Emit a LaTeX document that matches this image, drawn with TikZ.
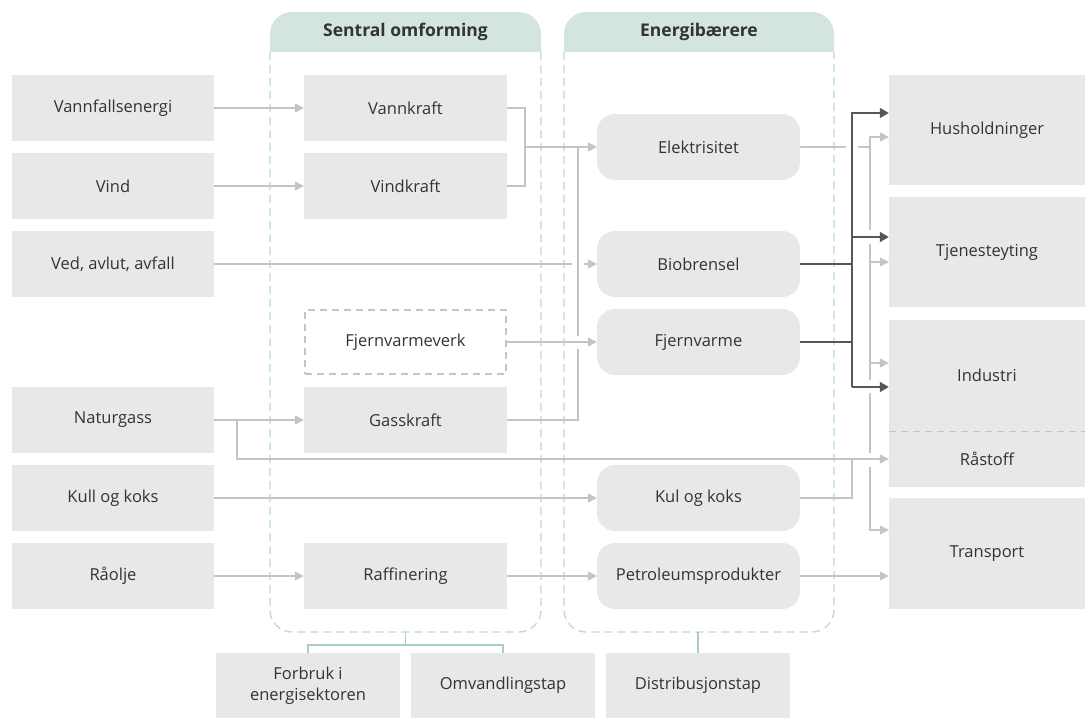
\documentclass[tikz,border=0pt]{standalone}
\usepackage{fontspec}
\setmainfont{Open Sans}
\usetikzlibrary{arrows.meta}
\definecolor{boxgray}{HTML}{E8E8E8}
\definecolor{headfill}{HTML}{D3E5DC}
\definecolor{tealdash}{HTML}{B9DCCF}
\definecolor{lightline}{HTML}{C4C4C4}
\definecolor{darkline}{HTML}{5B5555}
\definecolor{greenline}{HTML}{A6D1C1}
\definecolor{txt}{HTML}{333333}
\tikzset{
  lbl/.style={font=\fontsize{16.5}{20.5}\selectfont, text=txt, align=center, inner sep=0pt},
  gbox/.style={lbl, fill=boxgray, draw=none},
  leftbox/.style={gbox, minimum width=202pt, minimum height=66pt},
  midbox/.style={gbox, minimum width=203pt, minimum height=66pt},
  carrier/.style={gbox, rounded corners=18pt, minimum width=203pt, minimum height=66pt},
  rightbox/.style={gbox, minimum width=196pt},
  botbox/.style={gbox, minimum width=184pt, minimum height=65pt},
  lline/.style={draw=lightline, line width=1.6pt},
  dline/.style={draw=darkline, line width=1.8pt},
  larr/.style={lline, -{Triangle[length=9pt,width=9pt]}},
  darr/.style={dline, -{Triangle[length=9pt,width=10pt]}},
  panel/.style={draw=tealdash, line width=1.3pt, dash pattern=on 8pt off 5pt},
  gconn/.style={draw=greenline, line width=1.6pt},
  head/.style={font=\fontsize{17.5}{20}\selectfont\bfseries, text=txt, inner sep=0pt}
}
\begin{document}
\begin{tikzpicture}[x=1pt,y=-1pt]
\useasboundingbox (0,0) rectangle (1085,718);
% panels
\fill[headfill] (270,52) [rounded corners=22pt] -- (270,12) -- (541,12) [sharp corners] -- (541,52) -- cycle;
\fill[headfill] (564,52) [rounded corners=22pt] -- (564,12) -- (834,12) [sharp corners] -- (834,52) -- cycle;
\draw[panel] (270,52) [rounded corners=22pt] -- (270,632) -- (541,632) [sharp corners] -- (541,52);
\draw[panel] (564,52) [rounded corners=22pt] -- (564,632) -- (834,632) [sharp corners] -- (834,52);
\node[head] (h1) at (405.5,32) {Sentral omforming};
\node[head] (h2) at (699,32) {Energibærere};
% left boxes
\node[leftbox] (vf) at (113,108) {Vannfallsenergi};
\node[leftbox] (vind) at (113,186) {Vind};
\node[leftbox] (ved) at (113,264) {Ved, avlut, avfall};
\node[leftbox] (ngas) at (113,420) {Naturgass};
\node[leftbox] (kull) at (113,498) {Kull og koks};
\node[leftbox] (raa) at (113,576) {Råolje};
% middle
\node[midbox] (vk) at (405.5,108) {Vannkraft};
\node[midbox] (vik) at (405.5,186) {Vindkraft};
\node[lbl, fill=white, draw=lightline, line width=1.6pt, dash pattern=on 7pt off 5pt, minimum width=201pt, minimum height=64pt] (fvv) at (405.5,342) {Fjernvarmeverk};
\node[midbox] (gk) at (405.5,420) {Gasskraft};
\node[midbox] (raff) at (405.5,576) {Raffinering};
% carriers
\node[carrier] (el) at (698.5,147) {Elektrisitet};
\node[carrier] (bio) at (698.5,264) {Biobrensel};
\node[carrier] (fv) at (698.5,342) {Fjernvarme};
\node[carrier] (kk) at (698.5,498) {Kul og koks};
\node[carrier] (pp) at (698.5,576) {Petroleumsprodukter};
% right
\node[rightbox, minimum height=110pt] (hus) at (987,130) {Husholdninger};
\node[rightbox, minimum height=110pt] (tje) at (987,252) {Tjenesteyting};
\node[rightbox, minimum height=111pt] (ind) at (987,375.5) {Industri};
\node[rightbox, minimum height=56pt] (rst) at (987,459) {Råstoff};
\draw[draw=lightline, line width=1.3pt, dash pattern=on 7pt off 5pt] (ind.south west) -- (ind.south east);
\node[rightbox, minimum height=111pt] (tra) at (987,553.5) {Transport};
% bottom
\node[botbox] (forb) at (308,685.5) {Forbruk i\\energisektoren};
\node[botbox] (omv) at (503,685.5) {Omvandlingstap};
\node[botbox] (dist) at (698,685.5) {Distribusjonstap};
\coordinate (p1) at (405.5,632);
\coordinate (p2) at (698,632);
\draw[gconn] (p1) -- (405.5,645);
\draw[gconn] (forb.north) |- (405.5,645) -| (omv.north);
\draw[gconn] (p2) -- (dist.north);
% left connectors
\draw[larr] (vf.east) -- (vk.west);
\draw[larr] (vind.east) -- (vik.west);
\draw[lline] (vk.east) -| (525,147) |- (vik.east);
\draw[larr] (525,147) -- (el.west);
\draw[lline] (578,147) -- (578,336);
\draw[lline] (gk.east) -| (578,349);
\draw[lline] (ved.east) -- (572,264);
\draw[larr] (584,264) -- (bio.west);
\draw[larr] (fvv.east) -- (fv.west);
\draw[larr] (ngas.east) -- (gk.west);
\draw[larr] (237,420) |- (rst.west);
\draw[larr] (kull.east) -- (kk.west);
\draw[larr] (raa.east) -- (raff.west);
\draw[larr] (raff.east) -- (pp.west);
\draw[larr] (pp.east) -- (pp.east -| tra.west);
% right connectors light
\draw[lline] (el.east) -- (846,147);
\draw[lline] (858,147) -- (870,147);
\draw[larr] (870,230) -- (870,137) -- (hus.west |- 0,137);
\draw[lline] (870,244) -- (870,380);
\draw[larr] (870,262) -- (tje.west |- 0,262);
\draw[larr] (870,363) -- (ind.west |- 0,363);
\draw[lline] (870,393) -- (870,453);
\draw[larr] (870,467) -- (870,530) -- (tra.west |- 0,530);
\draw[lline] (kk.east) -| (852,459);
% right connectors dark
\draw[dline] (bio.east) -- (852,264);
\draw[dline] (fv.east) -- (852,342);
\draw[darr] (852,387) -- (852,113) -- (hus.west |- 0,113);
\draw[darr] (852,237) -- (tje.west |- 0,237);
\draw[darr] (852,387) -- (ind.west |- 0,387);
\end{tikzpicture}
\end{document}
